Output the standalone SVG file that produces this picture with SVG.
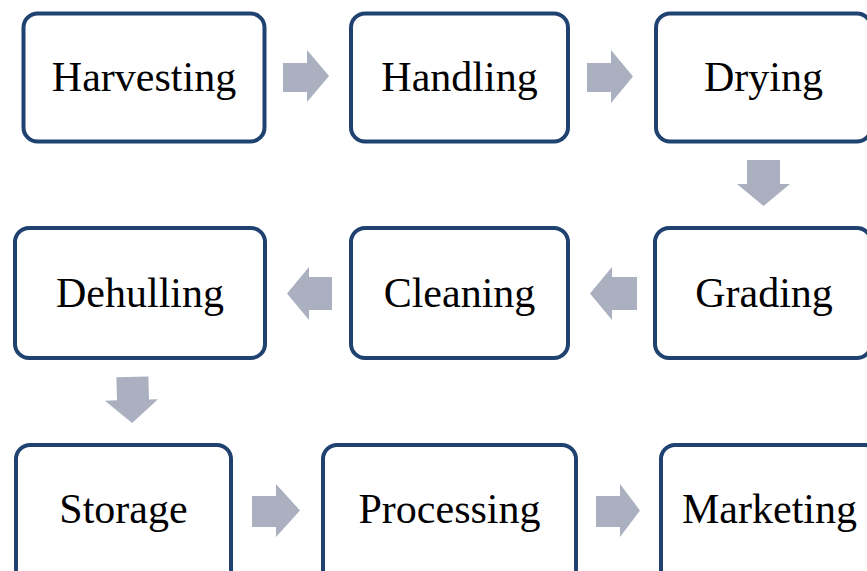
<svg xmlns="http://www.w3.org/2000/svg" width="867" height="571" viewBox="0 0 867 571">
<style>
.box{fill:#fff;stroke:#1f4270;stroke-width:4}
.lbl{font-family:"Liberation Serif","Times New Roman",serif;font-size:42px;fill:#000;text-anchor:middle}
.arr{fill:#aab0c0}
</style>
<rect width="867" height="571" fill="#fff"/>
<g id="connectors">
<polygon class="arr" points="283,63 307,63 307,50 329,76 307,102 307,92 283,92"/>
<polygon class="arr" points="587,63 611,63 611,50 633,76.5 611,103 611,92 587,92"/>
<polygon class="arr" points="747,160 780,160 780,184 790,184 763.5,206 737,184 747,184"/>
<polygon class="arr" points="637,277 612,277 612,267 590,293.5 612,320 612,310 637,310"/>
<polygon class="arr" points="332,277 309,277 309,267 287,293.5 309,320 309,310 332,310"/>
<polygon class="arr" points="117,377 149,377 149,400 158,400 131.5,423 105,400 117,400" transform="rotate(-1.5 131 400)"/>
<polygon class="arr" points="252,496 276,496 276,484 300,510.5 276,537 276,527 252,527"/>
<polygon class="arr" points="596,496 620,496 620,484 640,510.5 620,537 620,527 596,527"/>
</g>
<g id="harvesting"><rect class="box" x="23.5" y="13.5" width="241" height="128" rx="14"/><text class="lbl" x="144" y="91">Harvesting</text></g>
<g id="handling"><rect class="box" x="351" y="13.5" width="217" height="128" rx="14"/><text class="lbl" x="459.5" y="91">Handling</text></g>
<g id="drying"><rect class="box" x="656" y="13.5" width="215" height="128" rx="14"/><text class="lbl" x="763.5" y="91">Drying</text></g>
<g id="dehulling"><rect class="box" x="15" y="228" width="250" height="130" rx="14"/><text class="lbl" x="140" y="307">Dehulling</text></g>
<g id="cleaning"><rect class="box" x="351" y="228" width="217" height="130" rx="14"/><text class="lbl" x="459.5" y="307">Cleaning</text></g>
<g id="grading"><rect class="box" x="655" y="228" width="216" height="130" rx="14"/><text class="lbl" x="764" y="307">Grading</text></g>
<g id="storage"><rect class="box" x="16" y="445" width="215" height="140" rx="14"/><text class="lbl" x="123.5" y="523">Storage</text></g>
<g id="processing"><rect class="box" x="323" y="445" width="253" height="140" rx="14"/><text class="lbl" x="449.5" y="523">Processing</text></g>
<g id="marketing"><rect class="box" x="661" y="445" width="218" height="140" rx="14"/><text class="lbl" x="769.5" y="523">Marketing</text></g>
</svg>
